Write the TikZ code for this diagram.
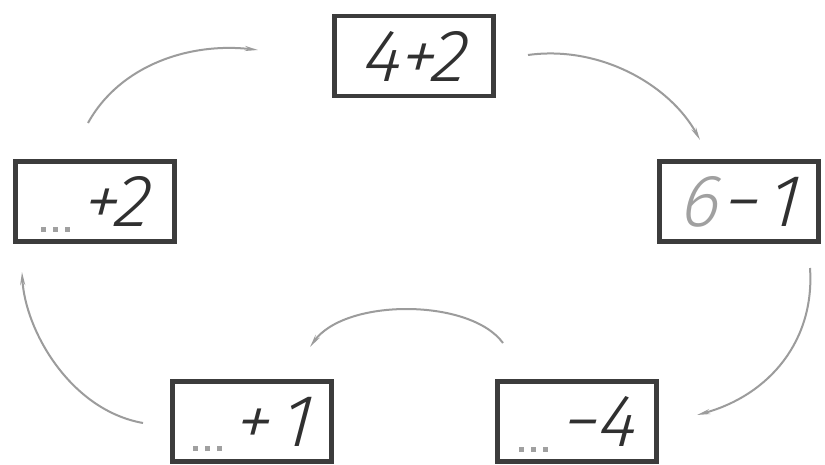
\documentclass[tikz,border=0pt]{standalone}
\usepackage{fontspec}
\newfontfamily\hand[FakeSlant=0.12]{Fira Sans Light Italic}
\usetikzlibrary{arrows.meta}
\definecolor{boxc}{HTML}{3C3C3C}
\definecolor{inkc}{HTML}{303030}
\definecolor{hintc}{HTML}{A0A0A0}
\definecolor{arrc}{HTML}{9C9C9C}
\newcommand\gdot{\rule{5pt}{5pt}}
\newcommand\gdots{\smash{\raisebox{-5pt}{\color{hintc}\gdot\hspace{7pt}\gdot\hspace{7pt}\gdot}}}
\tikzset{
  card/.style={draw=boxc, line width=4.5pt, minimum width=159pt, minimum height=80pt,
    inner sep=0pt},
  sum/.style={inner sep=0pt, font=\hand\fontsize{74}{74}\selectfont, text=inkc},
  flow/.style={draw=arrc, line width=2pt, -{Stealth[length=13pt,width=5pt]}},
}
\begin{document}
\begin{tikzpicture}[x=1pt,y=-1pt]
\useasboundingbox (0,0) rectangle (825,464);
\fill[white] (0,0) rectangle (825,464);

\node[card] (top)   at (414,56)    {};
\node[card] (right) at (739,201.5) {};
\node[card] (left)  at (95,201.5)  {};
\node[card] (bl)    at (252,421.5) {};
\node[card] (br)    at (577,421.5) {};

\node[sum] (topt)   at (top)   {4+2};
\node[sum] (rightt) at (right) {{\color{hintc}6}\hspace{4pt}−\hspace{8pt}1};
\node[sum] (leftt)  at (left)  {\gdots\hspace{12pt}+2};
\node[sum] (blt)    at (bl)    {\gdots\hspace{12pt}+\hspace{10pt}1};
\node[sum] (brt)    at (br)    {\gdots\hspace{14pt}−4};

\coordinate (a1s) at (88,123);  \coordinate (a1e) at (258,50);
\coordinate (a2s) at (528,55);  \coordinate (a2e) at (700,140);
\coordinate (a3s) at (810,268); \coordinate (a3e) at (697,415);
\coordinate (a4s) at (503,343); \coordinate (a4e) at (310,347);
\coordinate (a5s) at (143,423); \coordinate (a5e) at (22,272);

\draw[flow] (a1s) .. controls (120,65) and (190,42) .. (a1e);
\draw[flow] (a2s) .. controls (600,45) and (670,85) .. (a2e);
\draw[flow] (a3s) .. controls (815,340) and (770,395) .. (a3e);
\draw[flow] (a4s) .. controls (470,298) and (345,298) .. (a4e);
\draw[flow] (a5s) .. controls (70,410) and (25,330) .. (a5e);
\end{tikzpicture}
\end{document}
